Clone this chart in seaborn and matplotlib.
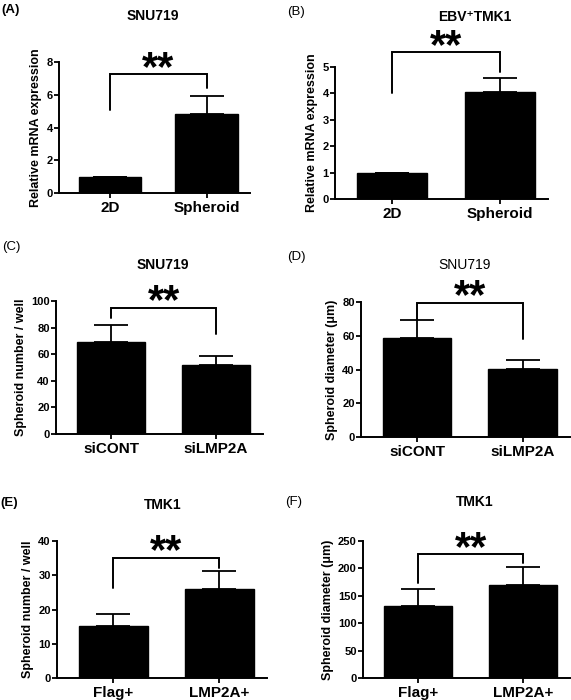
import numpy as np
import pandas as pd
import seaborn as sns
import matplotlib.pyplot as plt

sns.set_style("ticks")
plt.rcParams['font.family'] = ['Liberation Sans', 'DejaVu Sans']
plt.rcParams.update({"text.color": "black", "axes.labelcolor": "black",
                     "xtick.color": "black", "ytick.color": "black",
                     "axes.edgecolor": "black"})

# ---- datos de cada panel ----
grupos_A = ["2D", "Spheroid"]
media_A = [1.0, 4.8]
err_A = [0.0, 1.1]
corchete_A = [7.25, 5.05, 6.4]   # arriba, pata izq, pata der

grupos_B = ["2D", "Spheroid"]
media_B = [1.0, 4.05]
err_B = [0.0, 0.55]
corchete_B = [5.55, 4.0, 4.8]

grupos_C = ["siCONT", "siLMP2A"]
media_C = [69.5, 51.8]
err_C = [12.5, 7.0]
corchete_C = [95, 87, 75]

grupos_D = ["siCONT", "siLMP2A"]
media_D = [58.4, 40.3]
err_D = [11.2, 5.3]
corchete_D = [79.4, 69.5, 58.3]

grupos_E = ["Flag+", "LMP2A+"]
media_E = [15.1, 25.9]
err_E = [3.7, 5.2]
corchete_E = [35.1, 26.4, 32.2]

grupos_F = ["Flag+", "LMP2A+"]
media_F = [132, 170]
err_F = [30, 33]
corchete_F = [225.7, 174, 210]

W, H = 571, 700
fig = plt.figure(figsize=(W / 100, H / 100), dpi=100)


def ejes(izq, der, abajo, arriba):
    return fig.add_axes([izq / W, 1 - abajo / H, (der - izq) / W, (abajo - arriba) / H])


def panel(ax, grupos, media, err, corchete, ymax, paso, ylab, titulo, letra,
          titulo_bold=True, letra_bold=True, titulo_xy=(0.5, 0), letra_xy=(0, 0)):
    df = pd.DataFrame({"grupo": grupos, "valor": media})
    sns.barplot(data=df, x="grupo", y="valor", color="black", width=0.65,
                errorbar=None, ax=ax, edgecolor="black", saturation=1)
    x = np.arange(len(grupos))
    ax.errorbar(x, media, yerr=[np.zeros(len(err)), err], fmt="none",
                ecolor="black", elinewidth=1.3, capsize=12, capthick=1.3)
    ax.set_xlim(-0.53, 1.45)
    ax.set_ylim(0, ymax)
    ax.set_yticks(np.arange(0, ymax + paso / 2, paso))
    sns.despine(ax=ax)
    for s in ["left", "bottom"]:
        ax.spines[s].set_linewidth(1.4)
    ax.tick_params(axis="y", labelsize=8, width=1.3, length=3.5, pad=1)
    ax.tick_params(axis="x", labelsize=11, width=1.3, length=3.5, pad=2)
    for t in ax.get_xticklabels() + ax.get_yticklabels():
        t.set_fontweight("bold")
    ax.set_xlabel("")
    ax.set_ylabel(ylab, fontsize=9, fontweight="bold", labelpad=3)
    # corchete de significancia
    arriba, p_izq, p_der = corchete
    ax.plot([0, 0, 1, 1], [p_izq, arriba, arriba, p_der], color="black",
            lw=1.4, clip_on=False, solid_joinstyle="miter")
    ax.annotate("**", xy=(0.5, arriba), xytext=(0, -4), textcoords="offset points",
                ha="center", va="baseline", fontsize=30, fontweight="bold",
                color="black", annotation_clip=False)
    fig.text(titulo_xy[0] / W, 1 - titulo_xy[1] / H, titulo, ha="center", va="center",
             fontsize=10, fontweight="bold" if titulo_bold else "normal")
    fig.text(letra_xy[0] / W, 1 - letra_xy[1] / H, letra, ha="left", va="center",
             fontsize=9.5, fontweight="bold" if letra_bold else "normal")


axA = ejes(59, 250, 193, 62)
panel(axA, grupos_A, media_A, err_A, corchete_A, 8, 2, "Relative mRNA expression",
      "SNU719", "(A)", titulo_xy=(153, 16), letra_xy=(1, 10))

axB = ejes(335, 548, 199, 67)
panel(axB, grupos_B, media_B, err_B, corchete_B, 5, 1, "Relative mRNA expression",
      "EBV⁺TMK1", "(B)", letra_bold=False, titulo_xy=(475, 17), letra_xy=(287, 12))

axC = ejes(56, 263, 434, 301)
panel(axC, grupos_C, media_C, err_C, corchete_C, 100, 20, "Spheroid number / well",
      "SNU719", "(C)", letra_bold=False, titulo_xy=(163, 265), letra_xy=(2, 247))

axD = ejes(361, 570, 437, 302)
panel(axD, grupos_D, media_D, err_D, corchete_D, 80, 20, "Spheroid diameter (μm)",
      "SNU719", "(D)", titulo_bold=False, letra_bold=False,
      titulo_xy=(465, 265), letra_xy=(287, 257))

axE = ejes(57, 267, 678, 541)
panel(axE, grupos_E, media_E, err_E, corchete_E, 40, 10, "Spheroid number / well",
      "TMK1", "(E)", titulo_xy=(163, 505), letra_xy=(0, 503))

axF = ejes(363, 570, 678, 541)
panel(axF, grupos_F, media_F, err_F, corchete_F, 250, 50, "Spheroid diameter (μm)",
      "TMK1", "(F)", letra_bold=False, titulo_xy=(475, 502), letra_xy=(285, 502))

fig.savefig("out.png", dpi=100)
